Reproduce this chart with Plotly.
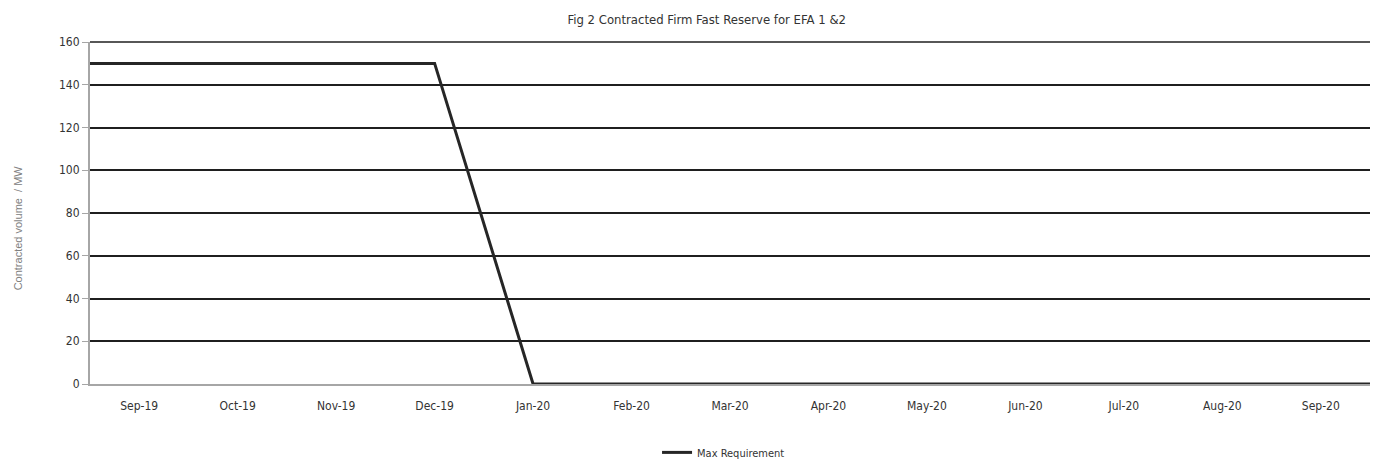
import plotly.graph_objects as go

months = ["Sep-19", "Oct-19", "Nov-19", "Dec-19", "Jan-20", "Feb-20", "Mar-20",
          "Apr-20", "May-20", "Jun-20", "Jul-20", "Aug-20", "Sep-20"]
max_requirement = [150, 150, 150, 150, 0, 0, 0, 0, 0, 0, 0, 0, 0]
y_ticks = [0, 20, 40, 60, 80, 100, 120, 140, 160]

FONT = "DejaVu Sans Condensed, Liberation Sans Narrow, Liberation Sans, Arial, sans-serif"
GRID = "#1f1f1f"

# category positions; the series line runs edge to edge of the plot area
pos = list(range(len(months)))
x_range = [-0.5, len(months) - 0.5]
x_line = [x_range[0]] + pos + [x_range[1]]
y_line = [max_requirement[0]] + max_requirement + [max_requirement[-1]]

fig = go.Figure()
fig.add_trace(go.Scatter(
    x=x_line, y=y_line, mode="lines", name="Max Requirement",
    line=dict(color="#262626", width=3),
))

# top gridline at the top of the range (plotly hides the gridline at the range edge)
fig.add_shape(type="line", xref="paper", yref="paper", x0=0, x1=1,
              y0=1, y1=1, layer="above",
              line=dict(color=GRID, width=1.6))

fig.update_layout(
    width=1370, height=453,
    margin=dict(l=82, r=8, t=34, b=77, autoexpand=False),
    paper_bgcolor="white", plot_bgcolor="white",
    font=dict(family=FONT, size=12, color="#333333"),
    title=dict(text="Fig 2 Contracted Firm Fast Reserve for EFA 1 &2",
               x=0.51, xanchor="center", y=0.975, yanchor="middle",
               font=dict(family=FONT, size=13, color="#333333")),
    showlegend=True,
    legend=dict(orientation="h", x=0.443, xanchor="left", y=-0.2, yanchor="middle",
                font=dict(family=FONT, size=11, color="#333333")),
    annotations=[dict(text="Contracted volume  / MW", textangle=-90,
                      xref="paper", yref="paper", x=-0.056, y=0.456,
                      xanchor="center", yanchor="middle", showarrow=False,
                      font=dict(family="Liberation Sans, Arial, sans-serif", size=11, color="#808080"))],
    xaxis=dict(range=x_range, tickvals=pos, ticktext=months, showgrid=False,
               showline=True, automargin=False, zeroline=False,
               linecolor="#a6a6a6", linewidth=2, ticks="", ticklabelstandoff=10,
               tickfont=dict(family=FONT, size=12, color="#333333")),
    yaxis=dict(range=[0, y_ticks[-1]], tickvals=y_ticks, showgrid=True, automargin=False,
               gridcolor=GRID, gridwidth=1.6, showline=True,
               linecolor="#a6a6a6", linewidth=2, ticks="outside", ticklen=6,
               tickcolor="#a6a6a6", zeroline=False,
               tickfont=dict(family=FONT, size=12, color="#333333")),
)

fig.write_html("out.html")
